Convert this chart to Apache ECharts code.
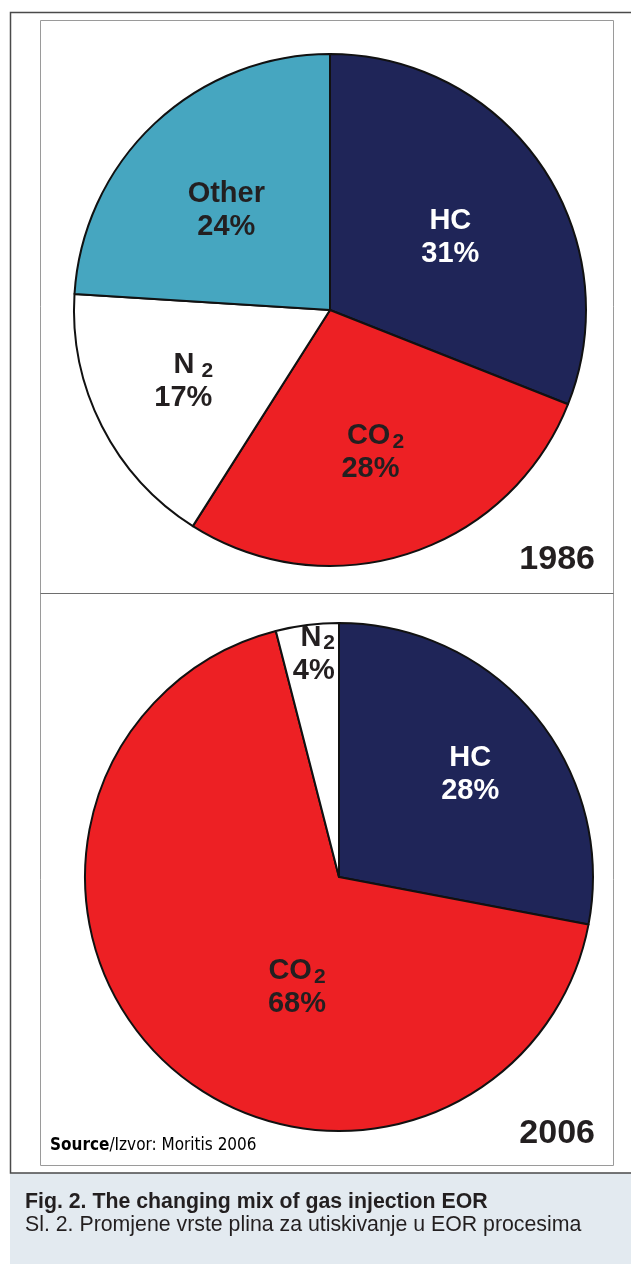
<!DOCTYPE html>
<html>
<head>
<meta charset="utf-8">
<script src="https://cdn.jsdelivr.net/npm/echarts@6/dist/echarts.min.js"></script>
<style>
  html, body { margin: 0; padding: 0; background: #ffffff; }
  #chart { width: 631px; height: 1264px; }
</style>
</head>
<body>
<div id="chart"></div>
<script>
// Gas injection EOR mix, share of projects by injected gas
const categories1986 = ['HC', 'CO2', 'N2', 'Other'];
const values1986 = [31, 28, 17, 24];
const categories2006 = ['HC', 'CO2', 'N2'];
const values2006 = [28, 68, 4];
const yearLabels = ['1986', '2006'];

const sliceColors = { HC: '#1f2558', CO2: '#ed2024', N2: '#ffffff', Other: '#46a6c0' };
const labelColors = { HC: '#ffffff', CO2: '#231f20', N2: '#231f20', Other: '#231f20' };

// label nudges from the default inside-slice anchor (pixels)
const nudge1986 = { HC: [12, 1], CO2: [0, 18], N2: [-30, 12], Other: [-14, -4] };
const nudge2006 = { HC: [31, -20], CO2: [47, 16], N2: [-9, -94] };
// extra left indent of the first label line (pixels)
const indent1986 = { N2: 20, CO2: 10 };
const indent2006 = { N2: 8 };

const FONT = 'Liberation Sans, Arial, Helvetica, sans-serif';

function richName(name, wide, indent) {
  const lead = indent ? '{pad' + indent + '|}' : '';
  if (name.endsWith('2')) {
    return lead + name.slice(0, -1) + (wide ? '{gap|2}' : '{sub|2}');
  }
  return lead + name;
}

function buildData(cats, vals) {
  return cats.map((c, i) => ({
    name: c,
    value: vals[i],
    itemStyle: { color: sliceColors[c] },
    label: { color: labelColors[c] }
  }));
}

function pieSeries(cats, vals, center, radius, nudges, indents, wideN2) {
  const rich = {
    sub: { fontFamily: FONT, fontWeight: 'bold', fontSize: 21, verticalAlign: 'bottom', padding: [0, 0, 0, 2] },
    gap: { fontFamily: FONT, fontWeight: 'bold', fontSize: 21, verticalAlign: 'bottom', padding: [0, 0, 0, 7] }
  };
  Object.values(indents).forEach(w => { rich['pad' + w] = { width: w, height: 1 }; });
  return {
    type: 'pie',
    center: center,
    radius: radius,
    startAngle: 90,
    clockwise: true,
    silent: true,
    animation: false,
    avoidLabelOverlap: false,
    data: buildData(cats, vals),
    itemStyle: { borderColor: '#111111', borderWidth: 2 },
    label: {
      show: true,
      position: 'inside',
      fontFamily: FONT,
      fontWeight: 'bold',
      fontSize: 29,
      lineHeight: 33,
      align: 'center',
      formatter: p => richName(p.name, wideN2 && p.name === 'N2', indents[p.name]) + '\n' + p.value + '%',
      rich: rich
    },
    labelLine: { show: false },
    labelLayout: p => {
      const n = nudges[cats[p.dataIndex]];
      return { dx: n[0], dy: n[1] };
    },
    emphasis: { disabled: true }
  };
}

const chart = echarts.init(document.getElementById('chart'), null, { renderer: 'canvas' });

const NARROW = 'Liberation Sans Narrow, Arial Narrow, DejaVu Sans Condensed, sans-serif';

chart.setOption({
  backgroundColor: '#ffffff',
  animation: false,
  graphic: [
    // caption band
    { type: 'rect', shape: { x: 10, y: 1173, width: 640, height: 100 }, style: { fill: '#e3eaf0' }, z: 0 },
    // outer frame
    { type: 'rect', shape: { x: 10.5, y: 12.5, width: 640, height: 1160.5 }, style: { fill: null, stroke: '#4a4a4a', lineWidth: 1.5 }, z: 1 },
    // inner panel frame
    { type: 'rect', shape: { x: 40.5, y: 20.5, width: 573, height: 1145 }, style: { fill: null, stroke: '#9a9a9a', lineWidth: 1 }, z: 1 },
    // panel divider
    { type: 'line', shape: { x1: 40.5, y1: 593.5, x2: 613.5, y2: 593.5 }, style: { stroke: '#6e6e6e', lineWidth: 1.2 }, z: 1 },
    // year labels
    { type: 'text', z: 5, style: { text: yearLabels[0], x: 595, y: 577, textAlign: 'right', textVerticalAlign: 'bottom', font: 'bold 34px ' + FONT, fill: '#231f20' } },
    { type: 'text', z: 5, style: { text: yearLabels[1], x: 595, y: 1151, textAlign: 'right', textVerticalAlign: 'bottom', font: 'bold 34px ' + FONT, fill: '#231f20' } },
    // source note
    { type: 'text', z: 5, style: {
        text: '{b|Source}{n|/Izvor: Moritis 2006}', x: 50, y: 1146, textVerticalAlign: 'middle',
        rich: {
          b: { fontFamily: NARROW, fontWeight: 'bold', fontSize: 17, color: '#231f20' },
          n: { fontFamily: NARROW, fontSize: 17, color: '#231f20' }
        } } },
    // figure caption
    { type: 'text', z: 5, style: { text: 'Fig. 2. The changing mix of gas injection EOR', x: 25, y: 1213, textVerticalAlign: 'bottom', font: 'bold 21.3px ' + FONT, fill: '#231f20' } },
    { type: 'text', z: 5, style: { text: 'Sl. 2. Promjene vrste plina za utiskivanje u EOR procesima', x: 25, y: 1236, textVerticalAlign: 'bottom', font: '21.3px ' + FONT, fill: '#231f20' } }
  ],
  series: [
    pieSeries(categories1986, values1986, [330, 310], 256, nudge1986, indent1986, true),
    pieSeries(categories2006, values2006, [339, 877], 254, nudge2006, indent2006, false)
  ]
});
</script>
</body>
</html>
